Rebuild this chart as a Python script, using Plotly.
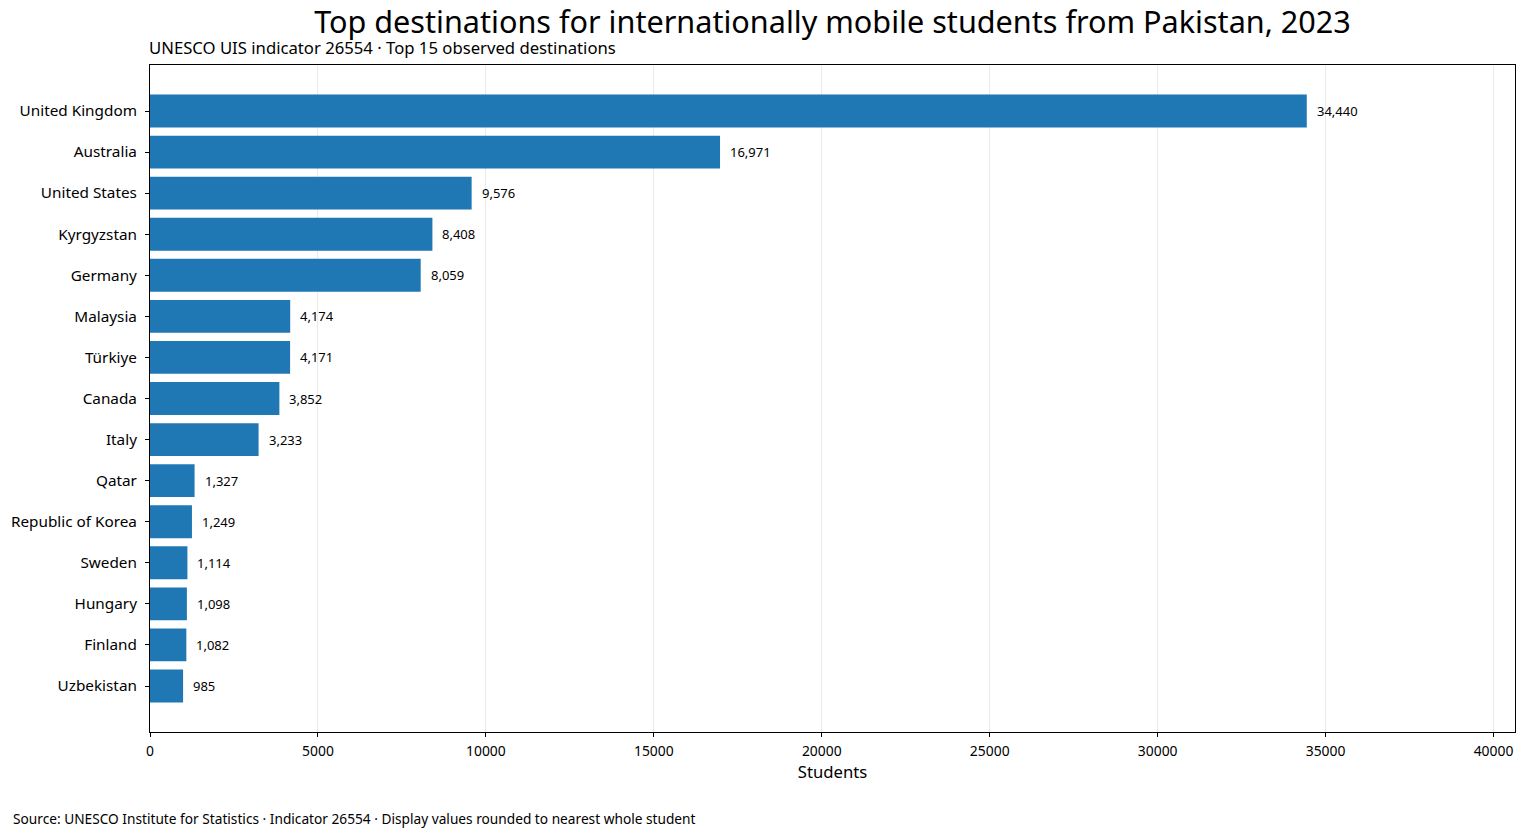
import plotly.graph_objects as go

countries = ["United Kingdom", "Australia", "United States", "Kyrgyzstan", "Germany",
             "Malaysia", "Türkiye", "Canada", "Italy", "Qatar", "Republic of Korea",
             "Sweden", "Hungary", "Finland", "Uzbekistan"]
students = [34440, 16971, 9576, 8408, 8059, 4174, 4171, 3852, 3233, 1327, 1249,
            1114, 1098, 1082, 985]
x_ticks = [0, 5000, 10000, 15000, 20000, 25000, 30000, 35000, 40000]

FONT = "Noto Sans"
labels = [f"{v:,}" for v in students]

W, H = 1527, 837
L, R, T, B = 149, 1516, 65, 732

fig = go.Figure()
fig.add_trace(go.Bar(
    x=students, y=countries, orientation="h",
    marker=dict(color="#1f77b4", line=dict(width=0)),
    width=0.8,
    hoverinfo="x+y",
))

annotations = [
    dict(x=v, y=c, xref="x", yref="y", text=t, showarrow=False,
         xanchor="left", yanchor="middle", xshift=8,
         font=dict(family=FONT, size=13, color="black"))
    for c, v, t in zip(countries, students, labels)
]
annotations += [
    dict(text="UNESCO UIS indicator 26554 · Top 15 observed destinations",
         xref="paper", yref="paper", x=0, y=1, xanchor="left", yanchor="middle",
         xshift=-3, yshift=T - 47, showarrow=False,
         font=dict(family=FONT, size=16.7, color="black")),
    dict(text="Source: UNESCO Institute for Statistics · Indicator 26554 · Display values rounded to nearest whole student",
         xref="paper", yref="paper", x=(10 - L) / (R - L), y=(B - 818) / (B - T),
         xanchor="left", yanchor="middle",
         showarrow=False, font=dict(family=FONT, size=13.7, color="black")),
]

fig.update_layout(
    width=W, height=H,
    paper_bgcolor="white", plot_bgcolor="white",
    margin=dict(l=L, r=W - R, t=T, b=H - B, pad=0),
    font=dict(family=FONT, size=13.9, color="black"),
    showlegend=False,
    title=dict(text="Top destinations for internationally mobile students from Pakistan, 2023",
               x=(L + R) / 2 / W, xanchor="center", y=1 - 22 / H, yanchor="middle",
               font=dict(family=FONT, size=30.6, color="black")),
    annotations=annotations,
)

fig.update_xaxes(
    range=[0, max(students) * 1.18],
    tickvals=x_ticks, ticktext=[str(t) for t in x_ticks],
    ticks="outside", ticklen=4, tickcolor="black",
    ticklabelstandoff=2,
    showgrid=True, gridcolor="#ebebeb", gridwidth=1,
    showline=True, linecolor="black", linewidth=1, mirror=True,
    zeroline=False,
    title=dict(text="Students", font=dict(family=FONT, size=16.7), standoff=4),
    tickfont=dict(family=FONT, size=13.9),
)
fig.update_yaxes(
    type="category", categoryorder="array", categoryarray=countries,
    range=[len(countries) - 1 + 1.12, -1.12],
    ticks="outside", ticklen=4, tickcolor="black",
    ticklabelstandoff=5,
    showgrid=False,
    showline=True, linecolor="black", linewidth=1, mirror=True,
    tickfont=dict(family=FONT, size=15.3),
)

fig.write_html("out.html", config={"displayModeBar": False},
               post_script="document.body.style.margin='0';")
